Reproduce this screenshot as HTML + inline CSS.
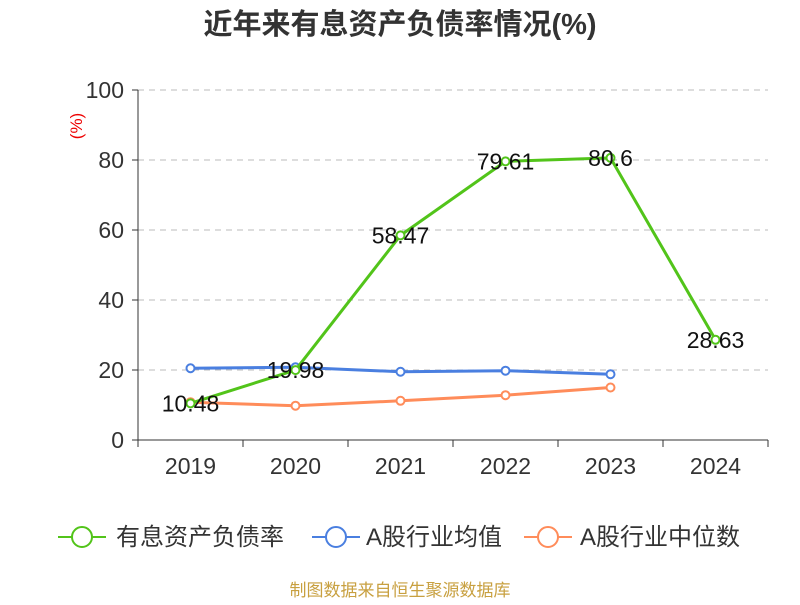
<!DOCTYPE html>
<html><head><meta charset="utf-8"><style>
body{margin:0;background:#fff}
svg{font-family:"Liberation Sans","Noto Sans CJK SC",sans-serif}
</style></head><body>
<svg width="800" height="600" id="c">
<text x="400" y="34" text-anchor="middle" font-size="29" font-weight="bold" fill="#333">近年来有息资产负债率情况(%)</text>
<text x="0" y="0" transform="translate(82,126) rotate(-90)" text-anchor="middle" font-size="17" fill="#e00">(%)</text>
<g id="grid"></g><g id="series"></g>
<g>
<g><line x1="58" y1="537" x2="106" y2="537" stroke="#52c41a" stroke-width="2"/><circle cx="82" cy="537" r="10" fill="#fff" stroke="#52c41a" stroke-width="2"/><text x="116" y="545" font-size="24" fill="#333">有息资产负债率</text></g>
<g><line x1="312" y1="537" x2="360" y2="537" stroke="#4a7fe0" stroke-width="2"/><circle cx="336" cy="537" r="10" fill="#fff" stroke="#4a7fe0" stroke-width="2"/><text x="366" y="545" font-size="24" fill="#333">A股行业均值</text></g>
<g><line x1="524" y1="537" x2="572" y2="537" stroke="#ff8c5a" stroke-width="2"/><circle cx="548" cy="537" r="10" fill="#fff" stroke="#ff8c5a" stroke-width="2"/><text x="580" y="545" font-size="24" fill="#333">A股行业中位数</text></g>
</g>
<text x="400" y="596" text-anchor="middle" font-size="17" fill="#c8a040">制图数据来自恒生聚源数据库</text>
</svg>
<script>
const categories=["2019","2020","2021","2022","2023","2024"];
const debtRatio=[10.48,19.98,58.47,79.61,80.6,28.63];
const industryMean=[20.5,20.8,19.5,19.8,18.8];
const industryMedian=[10.8,9.8,11.2,12.8,15.0];
const yTicks=[0,20,40,60,80,100];
const NS="http://www.w3.org/2000/svg";
const x0=138,x1=768,yTop=90,yBot=440;
const bw=(x1-x0)/categories.length;
const X=i=>x0+bw*(i+0.5);
const Y=v=>yBot-(v/100)*(yBot-yTop);
function mk(t,a,p){const e=document.createElementNS(NS,t);for(const k in a)e.setAttribute(k,a[k]);p.appendChild(e);return e;}
const g=document.getElementById('grid'),s=document.getElementById('series');
yTicks.forEach(v=>{
 if(v>0){const l=mk('line',{x1:x0,x2:x1,y1:Y(v),y2:Y(v),stroke:'#bbb','stroke-dasharray':'6,5'},g);
 
 }
 mk('line',{x1:x0-6,x2:x0,y1:Y(v),y2:Y(v),stroke:'#333'},g);
 const t=mk('text',{x:x0-14,y:Y(v)+8,'text-anchor':'end','font-size':23,fill:'#333'},g);t.textContent=v;
 
 
});
mk('line',{x1:x0,x2:x0,y1:yTop,y2:yBot,stroke:'#333'},g);
mk('line',{x1:x0,x2:x1,y1:yBot,y2:yBot,stroke:'#333'},g);
for(let i=0;i<=categories.length;i++)mk('line',{x1:x0+bw*i,x2:x0+bw*i,y1:yBot,y2:yBot+7,stroke:'#333'},g);
categories.forEach((c,i)=>{const t=mk('text',{x:X(i),y:474,'text-anchor':'middle','font-size':23,fill:'#333'},g);t.textContent=c;
 
 });
function series(vals,color,name){
 const p=mk('polyline',{points:vals.map((v,i)=>X(i)+','+Y(v)).join(' '),fill:'none',stroke:color,'stroke-width':3},s);
 
 
 vals.forEach((v,i)=>{const c=mk('circle',{cx:X(i),cy:Y(v),r:4,fill:'#fff',stroke:color,'stroke-width':2},s);
  
  });
}
series(industryMedian,'#ff8c5a','industry-median');
series(industryMean,'#4a7fe0','industry-mean');
series(debtRatio,'#52c41a','debt-ratio');
debtRatio.forEach((v,i)=>{const t=mk('text',{x:X(i),y:Y(v)+8,'text-anchor':'middle','font-size':23,fill:'#111'},s);t.textContent=v;
 
 });
</script>
</body></html>
